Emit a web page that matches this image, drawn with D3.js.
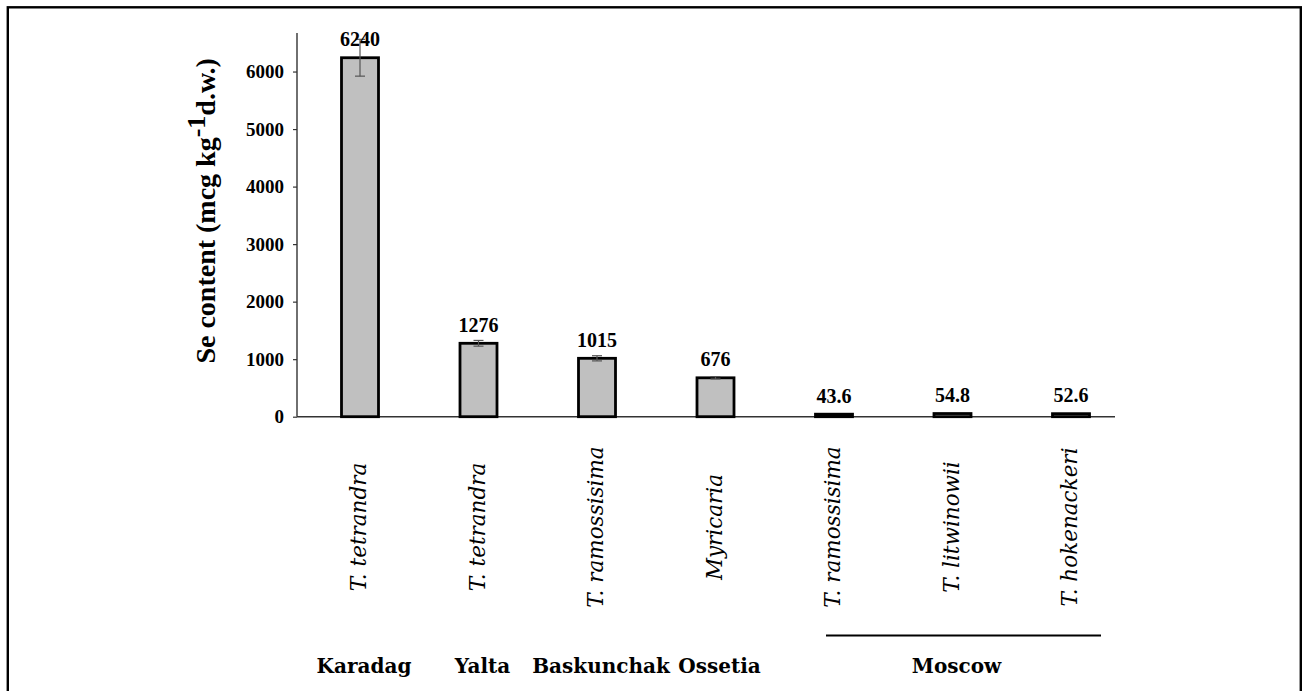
<!DOCTYPE html>
<html>
<head>
<meta charset="utf-8">
<script src="https://cdn.jsdelivr.net/npm/d3@7/dist/d3.min.js"></script>
<style>
  html, body { margin: 0; padding: 0; background: #fff; }
  svg { display: block; }
</style>
</head>
<body>
<svg id="chart" width="1303" height="691"></svg>
<script>
// Se content per sample (mcg/kg dry weight)
const species = ["T. tetrandra", "T. tetrandra", "T. ramossisima", "Myricaria",
                 "T. ramossisima", "T. litwinowii", "T. hokenackeri"];
const values = [6240, 1276, 1015, 676, 43.6, 54.8, 52.6];
const errors = [320, 50, 45, 20, 4, 5, 5];
const yTicks = [0, 1000, 2000, 3000, 4000, 5000, 6000];
// Sampling sites: label and the first/last bar index each one covers
const sites = ["Karadag", "Yalta", "Baskunchak", "Ossetia", "Moscow"];
const siteFrom = [0, 1, 2, 3, 4];
const siteTo = [0, 1, 2, 3, 6];

const svg = d3.select("#chart");
const keys = species.map((d, i) => i);

// frame around the figure
svg.append("rect")
  .attr("x", 7.8).attr("y", 7.3)
  .attr("width", 1293).attr("height", 720)
  .attr("fill", "none").attr("stroke", "#000").attr("stroke-width", 2.4);

const x = d3.scalePoint().domain(keys).range([360, 1071]);
const y = d3.scaleLinear().domain([0, 6670]).range([416.7, 33]);
const barW = 37;

// y axis
const yAxis = svg.append("g")
  .attr("transform", "translate(297,0)")
  .call(d3.axisLeft(y).tickValues(yTicks).tickSize(4).tickPadding(9).tickFormat(d3.format("d")));
yAxis.select(".domain").attr("stroke", "#333").attr("stroke-width", 1.4).attr("d", `M0,${y(0)}V${y.range()[1]}`);
yAxis.selectAll(".tick line").attr("stroke", "#333").attr("stroke-width", 1.2);
yAxis.selectAll(".tick text")
  .attr("fill", "#000")
  .style("font-family", "'Liberation Serif', 'Times New Roman', serif")
  .style("font-weight", "bold")
  .style("font-size", "19px");

// y axis title
const title = svg.append("text")
  .attr("transform", `translate(215,${(y(0) + y.range()[1]) / 2 - 14}) rotate(-90)`)
  .attr("text-anchor", "middle")
  .style("font-family", "'Liberation Serif', 'Times New Roman', serif")
  .style("font-weight", "bold")
  .style("font-size", "28px")
  .attr("fill", "#000");
title.append("tspan").text("Se content (mcg kg");
title.append("tspan").attr("dy", -10).style("font-size", "26px").text("-1");
title.append("tspan").attr("dy", 10).text("d.w.)");

// x baseline
svg.append("line")
  .attr("x1", 297).attr("x2", 1115)
  .attr("y1", y(0)).attr("y2", y(0))
  .attr("stroke", "#333").attr("stroke-width", 1.5);

// bars
svg.append("g").selectAll("rect")
  .data(keys)
  .join("rect")
  .attr("x", i => x(i) - barW / 2)
  .attr("y", i => y(values[i]))
  .attr("width", barW)
  .attr("height", i => y(0) - y(values[i]))
  .attr("fill", "#c0c0c0")
  .attr("stroke", "#000")
  .attr("stroke-width", 2.8);

// error bars
const eb = svg.append("g").attr("stroke", "#555").attr("stroke-width", 1.2);
keys.forEach(i => {
  if (errors[i] < 10) return;
  const cx = x(i), lo = y(values[i] - errors[i]), hi = y(values[i] + errors[i]);
  eb.append("line").attr("x1", cx).attr("x2", cx).attr("y1", lo).attr("y2", hi);
  eb.append("line").attr("x1", cx - 5).attr("x2", cx + 5).attr("y1", lo).attr("y2", lo);
  eb.append("line").attr("x1", cx - 5).attr("x2", cx + 5).attr("y1", hi).attr("y2", hi);
});

// value labels
svg.append("g").selectAll("text")
  .data(keys)
  .join("text")
  .attr("x", i => x(i))
  .attr("y", i => y(values[i]) - 11.5)
  .attr("text-anchor", "middle")
  .style("font-family", "'Liberation Serif', 'Times New Roman', serif")
  .style("font-weight", "bold")
  .style("font-size", "20px")
  .attr("fill", "#000")
  .text(i => String(values[i]));

// species names, rotated
svg.append("g").selectAll("text")
  .data(keys)
  .join("text")
  .attr("transform", i => `translate(${x(i) + 6},527) rotate(-90)`)
  .attr("text-anchor", "middle")
  .style("font-family", "'DejaVu Serif', serif")
  .style("font-style", "italic")
  .style("font-size", "21.5px")
  .attr("fill", "#000")
  .text(i => species[i]);

// site labels, with a rule above multi-bar groups
sites.forEach((s, k) => {
  const a = x(siteFrom[k]), b = x(siteTo[k]);
  if (siteTo[k] > siteFrom[k]) {
    svg.append("line")
      .attr("x1", a - 8).attr("x2", b + 30)
      .attr("y1", 635.5).attr("y2", 635.5)
      .attr("stroke", "#000").attr("stroke-width", 2.2);
  }
  svg.append("text")
    .attr("x", (a + b) / 2 + 4)
    .attr("y", 673)
    .attr("text-anchor", "middle")
    .style("font-family", "'DejaVu Serif', serif")
    .style("font-weight", "bold")
    .style("font-size", "20px")
    .attr("fill", "#000")
    .text(s);
});
</script>
</body>
</html>
